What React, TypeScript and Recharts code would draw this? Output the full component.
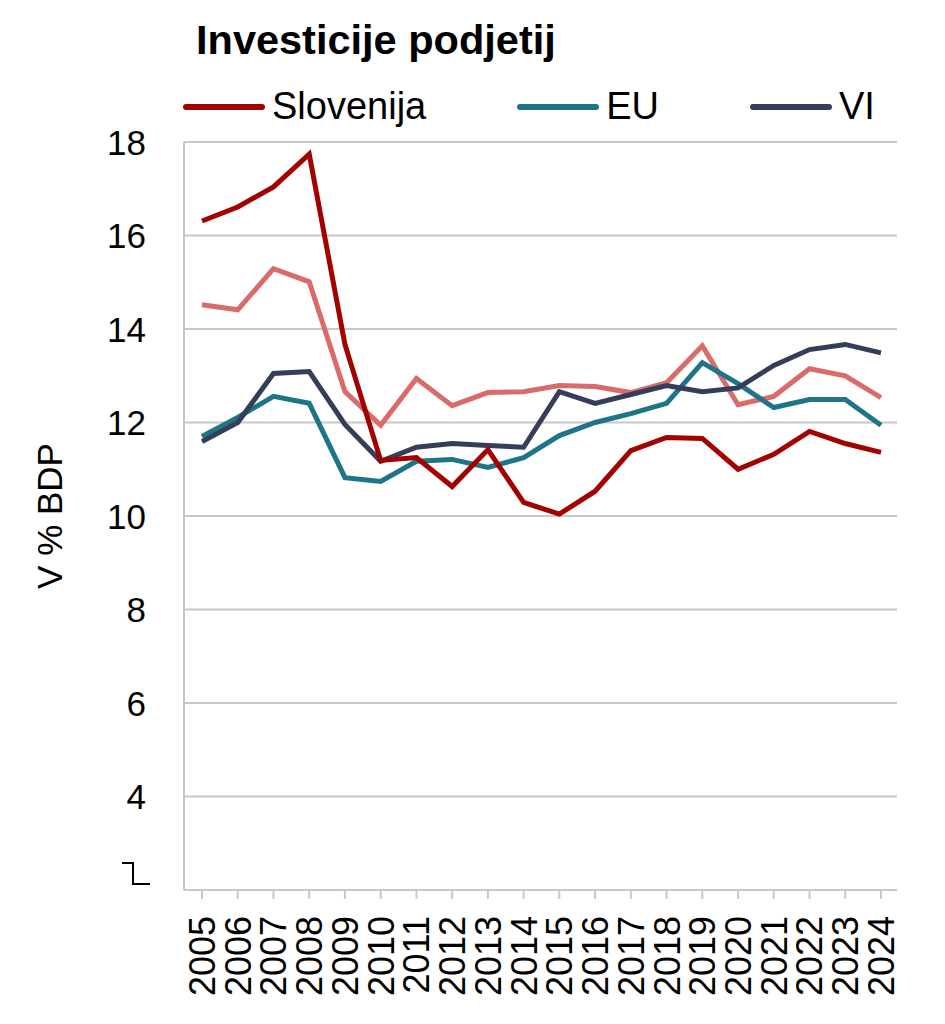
import { LineChart, Line, XAxis, YAxis, CartesianGrid } from 'recharts';

const years = [
  '2005', '2006', '2007', '2008', '2009', '2010', '2011', '2012', '2013', '2014',
  '2015', '2016', '2017', '2018', '2019', '2020', '2021', '2022', '2023', '2024',
];
const slovenija = [16.31, 16.61, 17.04, 17.74, 13.67, 11.19, 11.25, 10.63, 11.42, 10.29, 10.04, 10.53, 11.4, 11.68, 11.66, 11.0, 11.32, 11.81, 11.55, 11.36];
const slovenijaAlt = [14.52, 14.41, 15.29, 15.01, 12.66, 11.94, 12.94, 12.36, 12.64, 12.66, 12.79, 12.77, 12.64, 12.85, 13.64, 12.38, 12.56, 13.15, 13.0, 12.53];
const eu = [11.7, 12.11, 12.56, 12.41, 10.82, 10.74, 11.17, 11.21, 11.04, 11.25, 11.72, 12.0, 12.19, 12.41, 13.28, 12.83, 12.32, 12.49, 12.49, 11.94];
const vi = [11.59, 12.0, 13.05, 13.09, 11.96, 11.17, 11.47, 11.55, 11.51, 11.47, 12.66, 12.41, 12.6, 12.79, 12.66, 12.74, 13.22, 13.56, 13.67, 13.49];
const yTicks = [2, 4, 6, 8, 10, 12, 14, 16, 18];

const FONT = '"Liberation Sans", Arial, sans-serif';
const GRID = '#C8C8C8';

const legendItems = [
  { name: 'Slovenija', color: '#A30000' },
  { name: 'EU', color: '#1E7489' },
  { name: 'VI', color: '#353D58' },
];

const data = years.map((year, i) => ({
  year,
  slovenija: slovenija[i],
  slovenijaAlt: slovenijaAlt[i],
  eu: eu[i],
  vi: vi[i],
}));

const YTick = ({ x, y, payload }: { x: number; y: number; payload: { value: number } }) => {
  if (payload.value === 2) {
    // axis break mark in place of the lowest label
    return (
      <path
        d={`M${x - 24},${y - 27} h11 v21 h17`}
        fill="none"
        stroke="#000"
        strokeWidth={2}
      />
    );
  }
  return (
    <text x={x} y={y} dy="0.36em" textAnchor="end" fontSize={35} fill="#000" fontFamily={FONT}>
      {payload.value}
    </text>
  );
};

const XTick = ({ x, y, payload }: { x: number; y: number; payload: { value: string } }) => (
  <g transform={`translate(${x},${y})`}>
    <text transform="rotate(-90)" dy="0.36em" textAnchor="end" fontSize={36} fill="#000" fontFamily={FONT}>
      {payload.value}
    </text>
  </g>
);

export default function App() {
  return (
    <div style={{ position: 'absolute', left: 0, top: 0, width: 945, height: 1024, background: '#fff', fontFamily: FONT }}>
      <div style={{ position: 'absolute', left: 196, top: 19, fontSize: 41.5, lineHeight: '41px', fontWeight: 700, color: '#000' }}>
        Investicije podjetij
      </div>
      <div style={{ position: 'absolute', left: 183, top: 88, display: 'flex', alignItems: 'center', gap: 91, fontSize: 38, lineHeight: '37px' }}>
        {legendItems.map((item) => (
          <div key={item.name} style={{ display: 'flex', alignItems: 'center', gap: 7 }}>
            <span style={{ width: 82, height: 6, borderRadius: 3, backgroundColor: item.color, display: 'inline-block' }} />
            <span style={{ color: '#000' }}>{item.name}</span>
          </div>
        ))}
      </div>
      <LineChart width={945} height={1024} data={data} margin={{ top: 142, right: 48, left: 0, bottom: 0 }}>
        <CartesianGrid vertical={false} stroke={GRID} strokeWidth={2} yAxisId="l" />
        <XAxis
          dataKey="year"
          interval={0}
          height={134}
          padding={{ left: 18, right: 16 }}
          axisLine={{ stroke: GRID, strokeWidth: 2 }}
          tickLine={{ stroke: GRID, strokeWidth: 2 }}
          tickSize={9}
          tickMargin={17}
          tick={XTick}
        />
        <YAxis
          yAxisId="l"
          domain={[2, 18]}
          ticks={yTicks}
          interval={0}
          width={184}
          axisLine={{ stroke: GRID, strokeWidth: 2 }}
          tickLine={false}
          tickSize={0}
          tickMargin={38}
          tick={YTick}
          label={{ value: 'V % BDP', angle: -90, position: 'insideLeft', offset: 50, style: { textAnchor: 'middle', fontSize: 35, fill: '#000', fontFamily: FONT } }}
        />
        <YAxis
          yAxisId="r"
          orientation="right"
          domain={[2, 18]}
          width={0}
          tick={false}
          tickLine={false}
          axisLine={{ stroke: GRID, strokeWidth: 2 }}
        />
        <Line yAxisId="l" type="linear" dataKey="slovenijaAlt" stroke="#D96B6B" strokeWidth={5} dot={false} isAnimationActive={false} />
        <Line yAxisId="l" type="linear" dataKey="eu" stroke="#1E7489" strokeWidth={5} dot={false} isAnimationActive={false} />
        <Line yAxisId="l" type="linear" dataKey="vi" stroke="#353D58" strokeWidth={5} dot={false} isAnimationActive={false} />
        <Line yAxisId="l" type="linear" dataKey="slovenija" stroke="#A30000" strokeWidth={5} dot={false} isAnimationActive={false} />
      </LineChart>
    </div>
  );
}
